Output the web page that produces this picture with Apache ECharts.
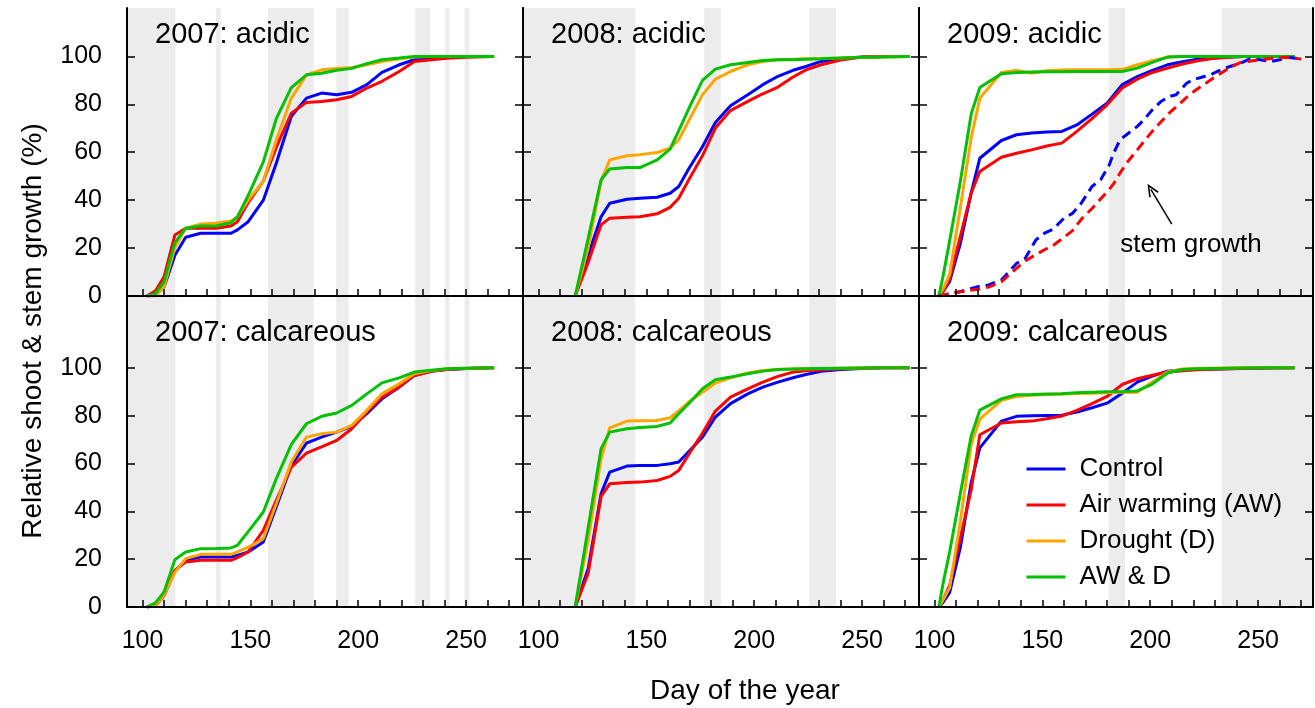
<!DOCTYPE html>
<html>
<head>
<meta charset="utf-8">
<script src="https://cdn.jsdelivr.net/npm/echarts@6/dist/echarts.min.js"></script>
<style>
  html, body { margin: 0; padding: 0; background: #fff; }
  #chart { width: 1315px; height: 708px; }
</style>
</head>
<body>
<div id="chart"></div>
<script>
// treatments and their colours
const treatments = ['Control', 'Air warming (AW)', 'Drought (D)', 'AW & D'];
const colors = ['#0000ff', '#ff0000', '#ffa500', '#00c000'];

// sampling days
const days2007 = [102, 106, 110, 115, 120, 127, 134, 141, 144, 149, 156, 162, 169, 176, 183, 190, 197, 204, 211, 219, 226, 234, 241, 250, 263];
const days2008 = [117, 123, 129, 133, 141, 147, 155, 161, 165, 170, 176, 182, 189, 197, 204, 211, 218, 224, 231, 240, 250, 260, 272];
const days2009 = [102, 104, 107, 112, 117, 121, 131, 138, 145, 152, 159, 166, 173, 180, 187, 194, 201, 208, 215, 222, 229, 236, 243, 250, 257, 267];
const stemDays2009 = [102, 109, 120, 125, 131, 138, 142, 147, 151, 155, 160, 164, 168, 173, 177, 181, 183, 186, 189, 194, 197, 201, 205, 209, 212, 217, 220, 225, 228, 231, 237, 242, 246, 251, 256, 260, 263, 270];

// 2007 acidic
const acid2007Control = [0, 0.3, 3.9, 17, 24.5, 26.2, 26.2, 26.2, 27.6, 31, 40, 55.4, 75, 82.6, 84.7, 84, 85, 88.2, 93.3, 96.5, 98.6, 99.3, 99.8, 100, 100];
const acid2007AW = [0, 2.2, 8, 25.5, 28.3, 28.3, 28.3, 29.2, 31, 39, 48, 62, 76.3, 80.8, 81.2, 81.9, 83.3, 86.8, 89.6, 93.7, 97.9, 98.6, 99.2, 99.6, 100];
const acid2007D = [0, 0, 3.9, 20.2, 28.3, 30, 30.4, 31.3, 33, 40, 48, 65, 82.6, 92.3, 94.4, 95, 95.4, 96.5, 97.9, 99, 99.7, 100, 100, 100, 100];
const acid2007AWD = [0, 1, 6, 22.3, 28.3, 29.2, 29.2, 30.6, 33, 42, 56, 74, 87, 92.3, 93, 94.2, 95, 97, 98.6, 99.3, 100, 100, 100, 100, 100];

// 2007 calcareous
const calc2007Control = [0, 0.5, 4.9, 15, 19.5, 20.9, 20.9, 20.9, 21.6, 23, 27.2, 41.8, 59.2, 68.5, 71, 73.1, 75.5, 80.8, 87, 91.9, 96.8, 98.5, 99.3, 99.7, 100];
const calc2007AW = [0, 0.5, 4.9, 15.3, 18.8, 19.5, 19.5, 19.5, 20.6, 23, 32, 44.6, 58.5, 64.3, 66.9, 69.6, 74.5, 81.5, 87.7, 91.9, 96.8, 98.5, 99.3, 99.7, 100];
const calc2007D = [0, 0.5, 5, 14.5, 20.2, 22, 22, 22, 23, 25, 28.6, 43.2, 60.6, 71, 72.4, 73.1, 75.9, 82.2, 89.1, 93.3, 97.5, 98.8, 99.6, 99.8, 100];
const calc2007AWD = [0, 1.7, 6.3, 19.8, 23, 24.4, 24.5, 24.7, 25.8, 31.5, 39.7, 53.6, 68, 76.6, 79.7, 81.1, 84.3, 89.1, 93.7, 95.8, 98.2, 99, 99.6, 99.8, 100];

// 2008 acidic
const acid2008Control = [0, 17, 33.1, 38.7, 40.4, 40.8, 41.2, 42.9, 45.7, 53.6, 62.3, 72.4, 79.4, 84, 88.2, 91.7, 94.2, 95.8, 97.9, 99, 99.7, 100, 100];
const acid2008AW = [0, 14, 29.7, 32.5, 32.9, 33.1, 34.3, 37, 40.8, 49, 58.5, 70.1, 77.4, 81.2, 84.4, 87.2, 91.4, 94.4, 96.5, 98.5, 99.7, 100, 100];
const acid2008D = [0, 20, 48, 56.8, 58.5, 59, 59.9, 61.7, 65.2, 73.7, 84, 90.5, 93.7, 96.5, 97.9, 98.6, 98.8, 99, 99.1, 99.3, 99.6, 99.8, 100];
const acid2008AWD = [0, 24, 48.5, 53, 53.6, 53.6, 56.8, 61.3, 69, 78.8, 90, 94.7, 96.5, 97.5, 98.3, 98.6, 98.6, 98.8, 99, 99.3, 99.6, 99.8, 100];

// 2008 calcareous
const calc2008Control = [0, 16, 47.4, 56.4, 58.9, 59.1, 59.2, 59.9, 60.6, 65.3, 71, 79.4, 85, 89.1, 91.9, 94, 95.8, 97.2, 98.5, 99.3, 99.7, 100, 100];
const calc2008AW = [0, 14, 46.2, 51.5, 52, 52.2, 52.9, 54.6, 57.1, 64.3, 72.6, 81.9, 87.7, 91.2, 94, 96.4, 98.2, 98.8, 99.2, 99.6, 99.8, 100, 100];
const calc2008D = [0, 28, 62, 74.9, 77.7, 77.9, 78, 79.1, 82, 86, 89.8, 93.6, 95.8, 97.8, 98.9, 99.3, 99.5, 99.6, 99.7, 99.8, 99.9, 100, 100];
const calc2008AWD = [0, 33, 66.2, 73.1, 74.5, 75, 75.5, 76.9, 80.8, 85.4, 91.2, 95, 96.1, 97.5, 98.6, 99.3, 99.5, 99.6, 99.7, 99.8, 99.9, 100, 100];

// 2009 acidic
const acid2009Control = [0, 2, 6, 22, 43, 57.5, 64.9, 67.3, 68, 68.4, 68.7, 71.4, 75.9, 80.5, 88.2, 91.6, 94.2, 96.5, 97.8, 98.8, 99.3, 99.7, 100, 100, 100, 100];
const acid2009AW = [0, 2, 7, 25, 43, 52, 57.9, 59.6, 61, 62.6, 63.8, 68.7, 74, 79.8, 86.8, 90.5, 93.3, 95.1, 96.8, 98.2, 99.1, 99.6, 100, 100, 100, 100];
const acid2009D = [0, 3, 9, 37, 66, 82.5, 93.3, 94.2, 93, 94, 94.3, 94.4, 94.4, 94.4, 94.6, 96.5, 98.2, 99.7, 100, 100, 100, 100, 100, 100, 100, 100];
const acid2009AWD = [0, 8.5, 23, 48, 76, 87, 92.8, 93.3, 93.5, 93.6, 93.6, 93.7, 93.7, 93.7, 93.7, 95.1, 97.5, 99.7, 100, 100, 100, 100, 100, 100, 100, 100];
// 2009 acidic stem growth (dashed)
const stem2009Control = [0, 1.1, 3.9, 4.6, 6.7, 13.6, 15.7, 23.4, 26.2, 27.9, 32.5, 34.5, 38.7, 45.7, 48.5, 54.7, 59.6, 65.2, 67.3, 70.8, 73.5, 77.7, 81.2, 83.3, 84, 88.9, 90.3, 91.6, 92.3, 93.7, 95.8, 97.2, 98.9, 98.6, 97.9, 98.6, 99.7, 98.9];
const stem2009AW = [0, 1.4, 2.8, 3.7, 5.9, 11.5, 14.6, 17.3, 19.3, 21.1, 24.5, 27.3, 32, 36.5, 40.5, 44.5, 46.8, 51.3, 55.4, 61, 64.4, 68.8, 72.7, 76.5, 78.9, 83, 85.2, 88.3, 90.2, 92, 95.4, 97.5, 98, 98.7, 99.1, 99.4, 99.6, 98.9];

// 2009 calcareous
const calc2009Control = [0, 2, 6, 25, 52, 66.5, 77.7, 79.7, 79.9, 80.1, 80.2, 81.5, 83.3, 85.2, 89.4, 94, 96.5, 98.6, 99.2, 99.4, 99.5, 99.6, 99.7, 99.8, 99.9, 100];
const calc2009AW = [0, 3, 9, 29, 49, 72, 76.9, 77.4, 77.7, 78.7, 79.8, 82.2, 85, 88, 93, 95.4, 96.9, 98.2, 98.8, 99.2, 99.4, 99.6, 99.8, 99.9, 100, 100];
const calc2009D = [0, 3, 8, 36, 68, 78.5, 86.4, 88, 88.5, 88.8, 89, 89.2, 89.4, 89.6, 89.8, 89.8, 94, 98.2, 99.5, 99.7, 99.8, 99.9, 100, 100, 100, 100];
const calc2009AWD = [0, 10, 23, 47.6, 71.5, 82.3, 87, 88.7, 88.8, 89, 89.1, 89.6, 89.8, 90, 90.1, 90.3, 93.2, 97.8, 99.3, 99.6, 99.7, 99.8, 99.9, 100, 100, 100];

// grey periods (day ranges), per year
const bands2007 = [[90, 115.2], [134, 136.3], [158.1, 179.3], [189.8, 195.5], [226.4, 233.4], [240.3, 242.3], [249.3, 251.5]];
const bands2008 = [[90, 144.8], [176.8, 184.5], [225.5, 238]];
const bands2009 = [[180.8, 188.3], [233.1, 280]];

const xTicks = [100, 110, 120, 130, 140, 150, 160, 170, 180, 190, 200, 210, 220, 230, 240, 250, 260, 270];
const xLabels = [100, 150, 200, 250];
const yTicks = [0, 20, 40, 60, 80, 100];

const panels = [
  { title: '2007: acidic', days: days2007, vals: [acid2007Control, acid2007AW, acid2007D, acid2007AWD], bands: bands2007 },
  { title: '2008: acidic', days: days2008, vals: [acid2008Control, acid2008AW, acid2008D, acid2008AWD], bands: bands2008 },
  { title: '2009: acidic', days: days2009, vals: [acid2009Control, acid2009AW, acid2009D, acid2009AWD], bands: bands2009 },
  { title: '2007: calcareous', days: days2007, vals: [calc2007Control, calc2007AW, calc2007D, calc2007AWD], bands: bands2007 },
  { title: '2008: calcareous', days: days2008, vals: [calc2008Control, calc2008AW, calc2008D, calc2008AWD], bands: bands2008 },
  { title: '2009: calcareous', days: days2009, vals: [calc2009Control, calc2009AW, calc2009D, calc2009AWD], bands: bands2009 },
];

const FONT = '"Liberation Sans", Arial, sans-serif';
const lefts = [127, 523, 919];
const widths = [396, 396, 394];
const tops = [8, 296];
const heights = [288, 311];
const yMax = [120.2, 130];
const xMin = 92.8;
const pxPerDay = 2.157;

const zip = (xs, ys) => xs.map((x, i) => [x, ys[i]]);

const grid = [], xAxis = [], yAxis = [], series = [], graphic = [];
const axisLine = { show: true, lineStyle: { color: '#000', width: 2 } };

panels.forEach((p, i) => {
  const row = Math.floor(i / 3), col = i % 3;
  grid.push({ left: lefts[col], top: tops[row], width: widths[col], height: heights[row] });
  const xMax = xMin + widths[col] / pxPerDay;
  xAxis.push({
    type: 'value', gridIndex: i, min: xMin, max: xMax, z: 10,
    axisLine,
    splitLine: { show: false },
    axisTick: { inside: true, length: 7, customValues: xTicks, lineStyle: { color: '#000', width: 1.5 } },
    axisLabel: { show: row === 1, customValues: xLabels, fontSize: 25, fontFamily: FONT, color: '#000', margin: 22 },
  });
  yAxis.push({
    type: 'value', gridIndex: i, min: 0, max: yMax[row], z: 10,
    axisLine,
    splitLine: { show: false },
    axisTick: { inside: true, length: 8, customValues: yTicks, lineStyle: { color: '#000', width: 1.5 } },
    axisLabel: { show: col === 0, customValues: yTicks, fontSize: 25, fontFamily: FONT, color: '#000', margin: 25 },
  });

  // grey periods
  series.push({
    type: 'line', xAxisIndex: i, yAxisIndex: i, data: [], silent: true, z: 1,
    markArea: {
      silent: true,
      itemStyle: { color: '#ececec' },
      data: p.bands.map(b => [{ xAxis: Math.max(b[0], xMin) }, { xAxis: Math.min(b[1], xMax) }]),
    },
  });

  p.vals.forEach((v, k) => {
    series.push({
      name: treatments[k], type: 'line', xAxisIndex: i, yAxisIndex: i,
      data: zip(p.days, v), symbol: 'none', color: colors[k],
      lineStyle: { width: 3, color: colors[k] }, z: 3,
    });
  });

  graphic.push({
    type: 'text', z: 100, x: lefts[col] + 28, y: tops[row] + (row === 0 ? 27 : 37),
    style: { text: p.title, fontSize: 29, fontFamily: FONT, fill: '#000', align: 'left', verticalAlign: 'middle' },
  });
});

// right and top frame axes
panels.forEach((p, i) => {
  const row = Math.floor(i / 3), col = i % 3;
  yAxis.push({
    type: 'value', gridIndex: i, position: 'right', min: 0, max: yMax[row], z: 10,
    axisLine, splitLine: { show: false }, axisLabel: { show: false },
    axisTick: { inside: true, length: 8, customValues: yTicks, lineStyle: { color: '#000', width: 1.5 } },
  });
  xAxis.push({
    type: 'value', gridIndex: i, position: 'top', min: xMin, max: xMin + widths[col] / pxPerDay, z: 10,
    axisLine, splitLine: { show: false }, axisLabel: { show: false }, axisTick: { show: false },
  });
});

// stem growth (2009 acidic)
series.push({
  name: 'Control stem', type: 'line', xAxisIndex: 2, yAxisIndex: 2,
  data: zip(stemDays2009, stem2009Control), symbol: 'none',
  lineStyle: { width: 3, color: colors[0], type: [10, 6] }, z: 3,
  markLine: {
    silent: true, symbol: ['none', 'path://M0,10 L5,0 L10,10 L8.6,10.6 L5,3 L1.4,10.6 Z'],
    symbolSize: [11, 13],
    lineStyle: { color: '#000', width: 1.5, type: 'solid' },
    label: { show: false },
    data: [[{ coord: [210, 30] }, { coord: [200.3, 44.5] }]],
  },
});
series.push({
  name: 'AW stem', type: 'line', xAxisIndex: 2, yAxisIndex: 2,
  data: zip(stemDays2009, stem2009AW), symbol: 'none',
  lineStyle: { width: 3, color: colors[1], type: [10, 6] }, z: 3,
});

graphic.push(
  { type: 'text', z: 100, x: 1191, y: 245, style: { text: 'stem growth', fontSize: 26, fontFamily: FONT, fill: '#000', align: 'center', verticalAlign: 'middle' } },
  { type: 'text', z: 100, x: 745, y: 691, style: { text: 'Day of the year', fontSize: 28, fontFamily: FONT, fill: '#000', align: 'center', verticalAlign: 'middle' } },
  { type: 'text', z: 100, x: 33, y: 331, rotation: Math.PI / 2, style: { text: 'Relative shoot & stem growth (%)', fontSize: 28, fontFamily: FONT, fill: '#000', align: 'center', verticalAlign: 'middle' } },
);

const chart = echarts.init(document.getElementById('chart'));
chart.setOption({
  animation: false,
  backgroundColor: '#fff',
  grid, xAxis, yAxis, series, graphic,
  legend: {
    data: treatments, orient: 'vertical', left: 1020, top: 451,
    itemWidth: 39, itemHeight: 26, itemGap: 10, selectedMode: false,
    itemStyle: { opacity: 0 },
    lineStyle: { width: 3 },
    textStyle: { fontSize: 26, fontFamily: FONT, color: '#000', padding: [0, 0, 0, 9] },
  },
});
</script>
</body>
</html>
